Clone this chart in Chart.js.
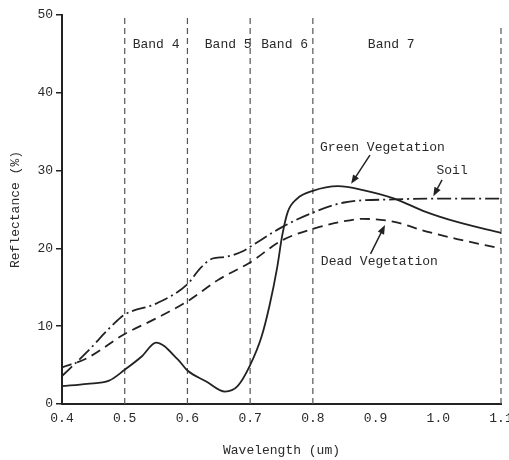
<!DOCTYPE html>
<html>
<head>
<meta charset="utf-8">
<script src="https://cdn.jsdelivr.net/npm/chart.js@4.4.1/dist/chart.umd.min.js"></script>
<style>
  html, body { margin: 0; padding: 0; background: #fff; }
  canvas { display: block; }
</style>
</head>
<body>
<canvas id="spectra" width="509" height="460"></canvas>
<script>
// wavelengths (um) and reflectance (%)
const greenWl = [0.40, 0.44, 0.475, 0.50, 0.527, 0.55, 0.585, 0.60, 0.63, 0.66, 0.68, 0.70, 0.718, 0.731, 0.743, 0.751, 0.76, 0.775, 0.80, 0.84, 0.88, 0.93, 0.98, 1.03, 1.10];
const greenRefl = [2.3, 2.6, 3.0, 4.4, 6.1, 7.9, 5.7, 4.3, 2.9, 1.6, 2.3, 5.0, 8.6, 12.7, 17.5, 21.6, 24.7, 26.4, 27.4, 28.0, 27.5, 26.4, 24.7, 23.4, 22.0];

const soilWl = [0.40, 0.44, 0.48, 0.50, 0.55, 0.60, 0.62, 0.64, 0.66, 0.69, 0.70, 0.75, 0.80, 0.85, 0.93, 1.00, 1.10];
const soilRefl = [3.6, 6.7, 10.1, 11.5, 12.9, 15.4, 17.4, 18.7, 18.9, 19.7, 20.2, 22.7, 24.6, 25.9, 26.3, 26.4, 26.4];

const deadWl = [0.40, 0.44, 0.50, 0.55, 0.60, 0.65, 0.70, 0.75, 0.80, 0.85, 0.88, 0.93, 0.98, 1.03, 1.10];
const deadRefl = [4.7, 5.9, 9.0, 11.0, 13.2, 16.0, 18.2, 21.0, 22.5, 23.5, 23.8, 23.4, 22.2, 21.2, 20.0];

// band boundaries (dashed verticals) and band names
const bandEdges = [0.5, 0.6, 0.7, 0.8, 1.1];
const bandEdgeTop = [50, 50, 50, 50, 48.5];
const bandNames = ['Band 4', 'Band 5', 'Band 6', 'Band 7'];
const bandNameX = [0.55, 0.665, 0.755, 0.925];

// curve labels: text, text position, arrow from -> to
const curveLabels = [
  { text: 'Green Vegetation', x: 0.911, y: 33.0, from: [0.891, 32.0], to: [0.861, 28.3] },
  { text: 'Soil', x: 1.022, y: 30.0, from: [1.006, 28.8], to: [0.992, 26.7] },
  { text: 'Dead Vegetation', x: 0.906, y: 18.3, from: [0.892, 19.3], to: [0.915, 23.0] }
];

const FONT = '"Liberation Mono", "DejaVu Sans Mono", monospace';
const INK = '#222';
const TXT = '#2a2a2a';

const toPoints = (xs, ys) => xs.map((x, i) => ({ x: x, y: ys[i] }));

const curve = (label, xs, ys, dash) => ({
  label: label,
  data: toPoints(xs, ys),
  borderColor: INK,
  borderWidth: 1.8,
  borderDash: dash,
  pointRadius: 0,
  cubicInterpolationMode: 'monotone',
  fill: false
});

const edgeSets = bandEdges.map((e, i) => ({
  label: 'edge ' + e,
  data: [{ x: e, y: 0 }, { x: e, y: bandEdgeTop[i] }],
  borderColor: '#555',
  borderWidth: 1.2,
  borderDash: [6, 4],
  pointRadius: 0,
  clip: 6
}));

const annotate = {
  id: 'annotate',
  afterDatasetsDraw(chart) {
    const { ctx, scales: { x, y } } = chart;
    ctx.save();
    ctx.font = '13px ' + FONT;
    ctx.fillStyle = TXT;
    ctx.textAlign = 'center';
    ctx.textBaseline = 'middle';
    bandNames.forEach((n, i) => {
      ctx.fillText(n, x.getPixelForValue(bandNameX[i]), y.getPixelForValue(46.2));
    });
    curveLabels.forEach(l => {
      ctx.fillStyle = TXT;
      ctx.fillText(l.text, x.getPixelForValue(l.x), y.getPixelForValue(l.y));
      const x0 = x.getPixelForValue(l.from[0]), y0 = y.getPixelForValue(l.from[1]);
      const x1 = x.getPixelForValue(l.to[0]), y1 = y.getPixelForValue(l.to[1]);
      const a = Math.atan2(y1 - y0, x1 - x0);
      ctx.strokeStyle = INK;
      ctx.lineWidth = 1.5;
      ctx.beginPath();
      ctx.moveTo(x0, y0);
      ctx.lineTo(x1 - 6 * Math.cos(a), y1 - 6 * Math.sin(a));
      ctx.stroke();
      ctx.fillStyle = INK;
      ctx.beginPath();
      ctx.moveTo(x1, y1);
      ctx.lineTo(x1 - 9 * Math.cos(a) + 3.5 * Math.sin(a), y1 - 9 * Math.sin(a) - 3.5 * Math.cos(a));
      ctx.lineTo(x1 - 9 * Math.cos(a) - 3.5 * Math.sin(a), y1 - 9 * Math.sin(a) + 3.5 * Math.cos(a));
      ctx.closePath();
      ctx.fill();
    });
    ctx.restore();
  }
};

new Chart(document.getElementById('spectra'), {
  type: 'line',
  data: {
    datasets: [
      curve('Green Vegetation', greenWl, greenRefl, []),
      curve('Soil', soilWl, soilRefl, [14, 4, 2, 4]),
      curve('Dead Vegetation', deadWl, deadRefl, [10, 6]),
      ...edgeSets
    ]
  },
  options: {
    responsive: false,
    animation: false,
    layout: { padding: { top: 15, right: 8, left: 0, bottom: 0 } },
    plugins: {
      legend: { display: false },
      tooltip: { enabled: false }
    },
    scales: {
      x: {
        type: 'linear',
        min: 0.4,
        max: 1.1,
        afterFit: s => { s.height = 56; s.paddingLeft = 0; s.paddingRight = 0; },
        grid: { display: false, drawTicks: false },
        border: { display: true, color: INK, width: 2 },
        ticks: {
          stepSize: 0.1,
          autoSkip: false,
          maxRotation: 0,
          padding: 7,
          color: TXT,
          font: { family: FONT, size: 13 },
          callback: v => Number(v).toFixed(1)
        },
        title: {
          display: true,
          text: 'Wavelength (um)',
          color: TXT,
          font: { family: FONT, size: 13 },
          padding: { top: 4, bottom: 2 }
        }
      },
      y: {
        min: 0,
        max: 50,
        afterFit: s => { s.width = 62; s.paddingTop = 0; s.paddingBottom = 0; },
        grid: { drawOnChartArea: false, drawTicks: true, tickLength: 6, color: INK, lineWidth: 1.5 },
        border: { display: true, color: INK, width: 2 },
        ticks: {
          stepSize: 10,
          padding: 3,
          color: TXT,
          font: { family: FONT, size: 13 }
        },
        title: {
          display: true,
          text: 'Reflectance (%)',
          color: TXT,
          font: { family: FONT, size: 13 },
          padding: { top: 8, bottom: 4 }
        }
      }
    }
  },
  plugins: [annotate]
});
</script>
</body>
</html>
